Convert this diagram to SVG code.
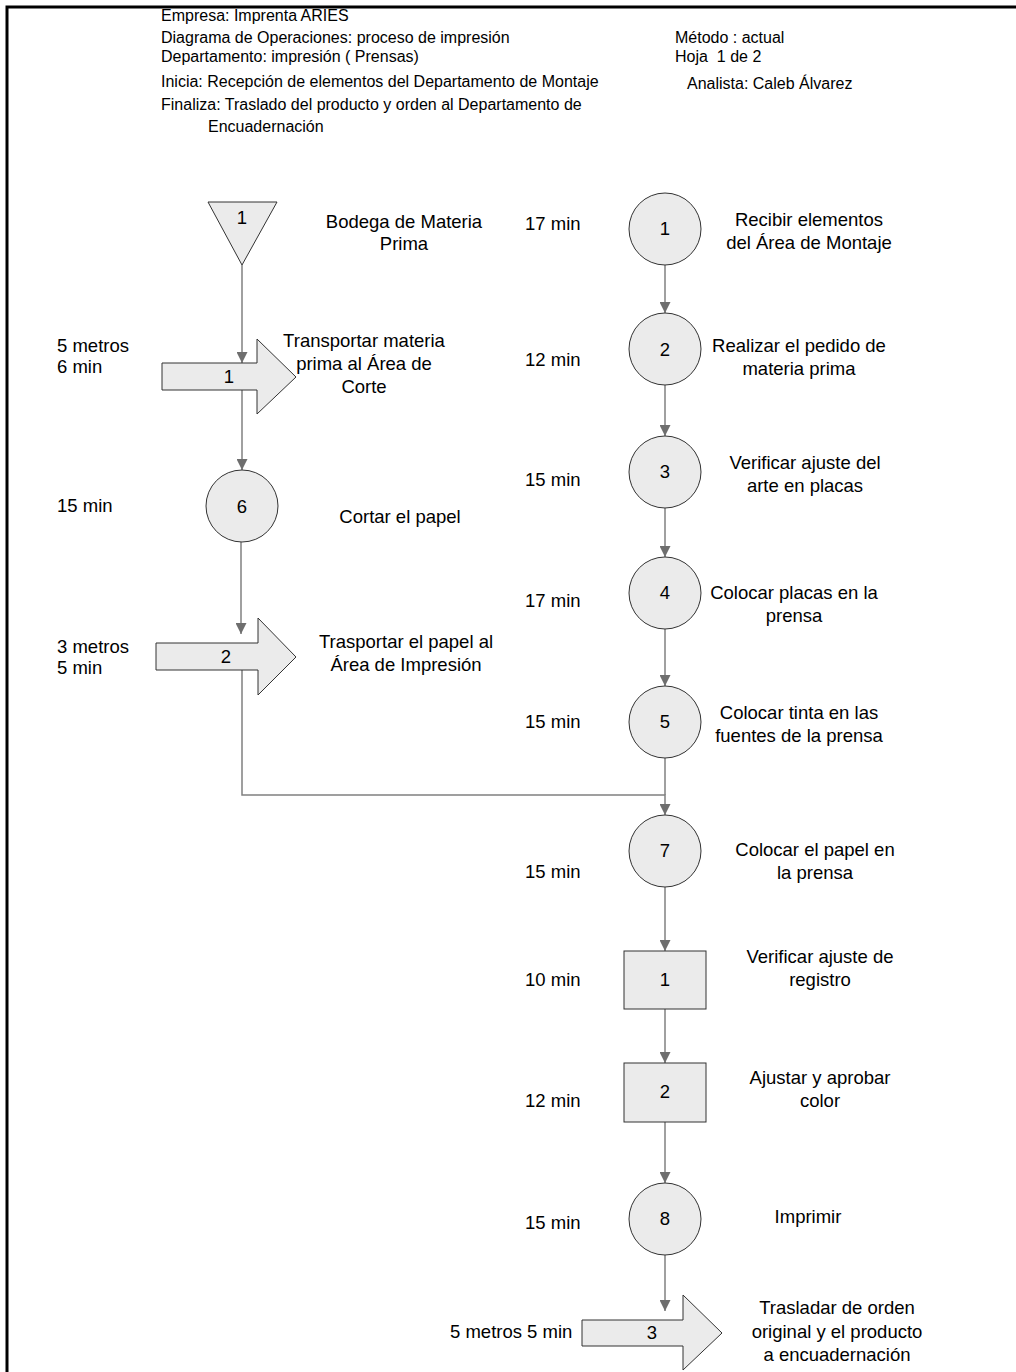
<svg xmlns="http://www.w3.org/2000/svg" width="1016" height="1372" viewBox="0 0 1016 1372">
  <style>
    text { font-family: "Liberation Sans", Arial, sans-serif; fill: #000; }
    .hdr { font-size: 16px; }
    .lbl { font-size: 18.5px; text-anchor: middle; }
    .tm { font-size: 18.5px; }
    .num { font-size: 18.5px; text-anchor: middle; }
    .shape { fill: #ebebeb; stroke: #333; stroke-width: 1; }
    .conn { fill: none; stroke: #808080; stroke-width: 1.5; }
    .arr { marker-end: url(#ah); }
  </style>
  <defs>
    <marker id="ah" markerUnits="userSpaceOnUse" markerWidth="11" markerHeight="11" refX="10" refY="5" orient="auto" viewBox="0 0 10 10">
      <path d="M0,0 L10,5 L0,10 z" fill="#6e6e6e"/>
    </marker>
  </defs>

  <!-- frame -->
  <path d="M7,1372 V7 H1016" fill="none" stroke="#000" stroke-width="3"/>

  <!-- header -->
  <g id="header" class="hdr">
    <text x="161" y="21">Empresa: Imprenta ARIES</text>
    <text x="161" y="43">Diagrama de Operaciones: proceso de impresión</text>
    <text x="161" y="62">Departamento: impresión ( Prensas)</text>
    <text x="161" y="87">Inicia: Recepción de elementos del Departamento de Montaje</text>
    <text x="161" y="110">Finaliza: Traslado del producto y orden al Departamento de</text>
    <text x="208" y="132">Encuadernación</text>
    <text x="675" y="43">Método : actual</text>
    <text x="675" y="62" xml:space="preserve">Hoja  1 de 2</text>
    <text x="687" y="89">Analista: Caleb Álvarez</text>
  </g>

  <!-- connectors -->
  <g id="connectors" class="conn">
    <path class="arr" d="M242,265 V363"/>
    <path class="arr" d="M242,390 V470"/>
    <path class="arr" d="M241,542 V634"/>
    <path class="arr" d="M242,670 V795 H665 V815"/>
    <path class="arr" d="M665,265 V313"/>
    <path class="arr" d="M665,385 V436"/>
    <path class="arr" d="M665,508 V557"/>
    <path class="arr" d="M665,629 V686"/>
    <path d="M665,758 V795"/>
    <path class="arr" d="M665,887 V951"/>
    <path class="arr" d="M665,1009 V1063"/>
    <path class="arr" d="M665,1122 V1183"/>
    <path class="arr" d="M665,1255 V1311"/>
  </g>

  <!-- left column -->
  <g id="store1">
    <path class="shape" d="M208,202 H277 L242,265 Z"/>
    <text class="num" x="242" y="224">1</text>
    <text class="lbl" x="404" y="228">Bodega de Materia</text>
    <text class="lbl" x="404" y="250">Prima</text>
  </g>
  <g id="transport1">
    <path class="shape" d="M162,363 H257 V339 L296,377 L257,414 V390 H162 Z"/>
    <text class="num" x="229" y="383">1</text>
    <text class="tm" x="57" y="352">5 metros</text>
    <text class="tm" x="57" y="373">6 min</text>
    <text class="lbl" x="364" y="347">Transportar materia</text>
    <text class="lbl" x="364" y="370">prima al Área de</text>
    <text class="lbl" x="364" y="393">Corte</text>
  </g>
  <g id="op6">
    <circle class="shape" cx="242" cy="506" r="36"/>
    <text class="num" x="242" y="513">6</text>
    <text class="tm" x="57" y="512">15 min</text>
    <text class="lbl" x="400" y="523">Cortar el papel</text>
  </g>
  <g id="transport2">
    <path class="shape" d="M156,643 H258 V618 L296,657 L258,695 V670 H156 Z"/>
    <text class="num" x="226" y="663">2</text>
    <text class="tm" x="57" y="653">3 metros</text>
    <text class="tm" x="57" y="674">5 min</text>
    <text class="lbl" x="406" y="648">Trasportar el papel al</text>
    <text class="lbl" x="406" y="671">Área de Impresión</text>
  </g>

  <!-- right column -->
  <g id="op1">
    <circle class="shape" cx="665" cy="229" r="36"/>
    <text class="num" x="665" y="235">1</text>
    <text class="tm" x="525" y="230">17 min</text>
    <text class="lbl" x="809" y="226">Recibir elementos</text>
    <text class="lbl" x="809" y="249">del Área de Montaje</text>
  </g>
  <g id="op2">
    <circle class="shape" cx="665" cy="349" r="36"/>
    <text class="num" x="665" y="356">2</text>
    <text class="tm" x="525" y="366">12 min</text>
    <text class="lbl" x="799" y="352">Realizar el pedido de</text>
    <text class="lbl" x="799" y="375">materia prima</text>
  </g>
  <g id="op3">
    <circle class="shape" cx="665" cy="472" r="36"/>
    <text class="num" x="665" y="478">3</text>
    <text class="tm" x="525" y="486">15 min</text>
    <text class="lbl" x="805" y="469">Verificar ajuste del</text>
    <text class="lbl" x="805" y="492">arte en placas</text>
  </g>
  <g id="op4">
    <circle class="shape" cx="665" cy="593" r="36"/>
    <text class="num" x="665" y="599">4</text>
    <text class="tm" x="525" y="607">17 min</text>
    <text class="lbl" x="794" y="599">Colocar placas en la</text>
    <text class="lbl" x="794" y="622">prensa</text>
  </g>
  <g id="op5">
    <circle class="shape" cx="665" cy="722" r="36"/>
    <text class="num" x="665" y="728">5</text>
    <text class="tm" x="525" y="728">15 min</text>
    <text class="lbl" x="799" y="719">Colocar tinta en las</text>
    <text class="lbl" x="799" y="742">fuentes de la prensa</text>
  </g>
  <g id="op7">
    <circle class="shape" cx="665" cy="851" r="36"/>
    <text class="num" x="665" y="857">7</text>
    <text class="tm" x="525" y="878">15 min</text>
    <text class="lbl" x="815" y="856">Colocar el papel en</text>
    <text class="lbl" x="815" y="879">la prensa</text>
  </g>
  <g id="insp1">
    <rect class="shape" x="624" y="951" width="82" height="58"/>
    <text class="num" x="665" y="986">1</text>
    <text class="tm" x="525" y="986">10 min</text>
    <text class="lbl" x="820" y="963">Verificar ajuste de</text>
    <text class="lbl" x="820" y="986">registro</text>
  </g>
  <g id="insp2">
    <rect class="shape" x="624" y="1063" width="82" height="59"/>
    <text class="num" x="665" y="1098">2</text>
    <text class="tm" x="525" y="1107">12 min</text>
    <text class="lbl" x="820" y="1084">Ajustar y aprobar</text>
    <text class="lbl" x="820" y="1107">color</text>
  </g>
  <g id="op8">
    <circle class="shape" cx="665" cy="1219" r="36"/>
    <text class="num" x="665" y="1225">8</text>
    <text class="tm" x="525" y="1229">15 min</text>
    <text class="lbl" x="808" y="1223">Imprimir</text>
  </g>
  <g id="transport3">
    <path class="shape" d="M582,1320 H683 V1295 L722,1333 L683,1370 V1346 H582 Z"/>
    <text class="num" x="652" y="1339">3</text>
    <text class="tm" x="450" y="1338">5 metros 5 min</text>
    <text class="lbl" x="837" y="1314">Trasladar de orden</text>
    <text class="lbl" x="837" y="1338">original y el producto</text>
    <text class="lbl" x="837" y="1361">a encuadernación</text>
  </g>
</svg>
